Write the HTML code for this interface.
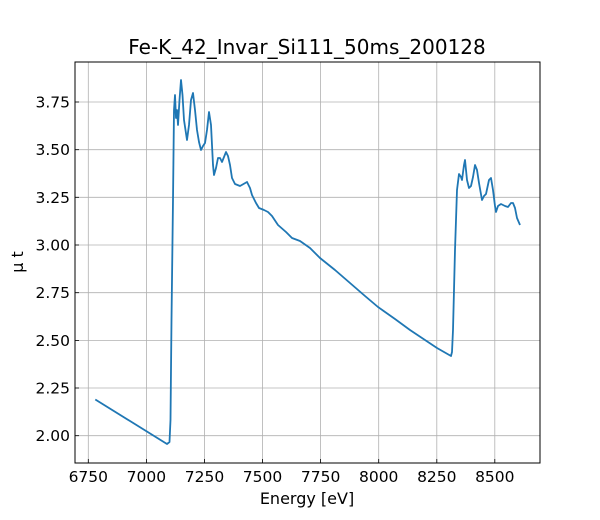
<!DOCTYPE html>
<html><head><style>body{margin:0;background:#fff}svg{display:block}text{font-family:"DejaVu Sans","Liberation Sans",sans-serif;fill:#000}</style></head>
<body>
<svg width="600" height="520" xmlns="http://www.w3.org/2000/svg">
<rect width="600" height="520" fill="#fff"/>
<g stroke="#b0b0b0" stroke-width="0.8">
<line x1="88.3" y1="62" x2="88.3" y2="463"/><line x1="146.4" y1="62" x2="146.4" y2="463"/><line x1="204.5" y1="62" x2="204.5" y2="463"/><line x1="262.5" y1="62" x2="262.5" y2="463"/><line x1="320.6" y1="62" x2="320.6" y2="463"/><line x1="378.7" y1="62" x2="378.7" y2="463"/><line x1="436.8" y1="62" x2="436.8" y2="463"/><line x1="494.8" y1="62" x2="494.8" y2="463"/>
<line x1="75" y1="435.7" x2="540" y2="435.7"/><line x1="75" y1="388" x2="540" y2="388"/><line x1="75" y1="340.4" x2="540" y2="340.4"/><line x1="75" y1="292.7" x2="540" y2="292.7"/><line x1="75" y1="245" x2="540" y2="245"/><line x1="75" y1="197.3" x2="540" y2="197.3"/><line x1="75" y1="149.7" x2="540" y2="149.7"/><line x1="75" y1="102" x2="540" y2="102"/>
</g>
<polyline fill="none" stroke="#1f77b4" stroke-width="1.8" stroke-linejoin="round" points="95.3,399.5 130,421 167,444 169.5,442 170.5,420 171.5,320 173,200 174,110 175,95 176,118 177,110 178,125 179.5,100 181,80 182.5,95 184,120 185.5,130 187,140 189,125 191,100 193,93 195,110 197,130 199,142 201,150 203,146 205,143 207,130 209,112 211,125 213,165 214,175 216,168 218,158 220,158 222,162 224,157 226,152 228,156 230,165 232,178 235,184 240,186 247,182 250,188 252,195 256,203 259,208 264,210 268,212 272,216 278,225 286,232 292,238 300,241 310,248 320,258 335,270 350,283 365,296 378,307 395,319 410,330 425,340 437,348 451,356 452,352 453,330 455,250 457,190 459,174 461,177 462,180 464,165 465,160 467,180 469,188 471,186 473,177 475,165 477,170 479,183 482,200 484,196 486,194 489,180 491,178 493,190 495,206 496,212 498,206 501,204 505,206 508,207 511,203 513,203 515,208 517,218 520,225"/>
<rect x="75" y="62" width="465" height="401" fill="none" stroke="#000" stroke-width="1"/>
<g stroke="#000" stroke-width="0.8">
<line x1="88.3" y1="463" x2="88.3" y2="459"/><line x1="146.4" y1="463" x2="146.4" y2="459"/><line x1="204.5" y1="463" x2="204.5" y2="459"/><line x1="262.5" y1="463" x2="262.5" y2="459"/><line x1="320.6" y1="463" x2="320.6" y2="459"/><line x1="378.7" y1="463" x2="378.7" y2="459"/><line x1="436.8" y1="463" x2="436.8" y2="459"/><line x1="494.8" y1="463" x2="494.8" y2="459"/>
<line x1="79" y1="435.7" x2="75" y2="435.7"/><line x1="79" y1="388" x2="75" y2="388"/><line x1="79" y1="340.4" x2="75" y2="340.4"/><line x1="79" y1="292.7" x2="75" y2="292.7"/><line x1="79" y1="245" x2="75" y2="245"/><line x1="79" y1="197.3" x2="75" y2="197.3"/><line x1="79" y1="149.7" x2="75" y2="149.7"/><line x1="79" y1="102" x2="75" y2="102"/>
</g>
<g font-size="15.5" text-anchor="middle">
<text x="88.3" y="482">6750</text><text x="146.4" y="482">7000</text><text x="204.5" y="482">7250</text><text x="262.5" y="482">7500</text><text x="320.6" y="482">7750</text><text x="378.7" y="482">8000</text><text x="436.8" y="482">8250</text><text x="494.8" y="482">8500</text>
</g>
<g font-size="15.5" text-anchor="end">
<text x="70" y="441.2">2.00</text><text x="70" y="393.5">2.25</text><text x="70" y="345.9">2.50</text><text x="70" y="298.2">2.75</text><text x="70" y="250.5">3.00</text><text x="70" y="202.8">3.25</text><text x="70" y="155.2">3.50</text><text x="70" y="107.5">3.75</text>
</g>
<text x="307" y="504" font-size="16" text-anchor="middle">Energy [eV]</text>
<text transform="translate(23,262) rotate(-90)" font-size="16" text-anchor="middle">μ t</text>
<text x="307" y="54" font-size="20" text-anchor="middle">Fe-K_42_Invar_Si111_50ms_200128</text>
</svg>
</body></html>
